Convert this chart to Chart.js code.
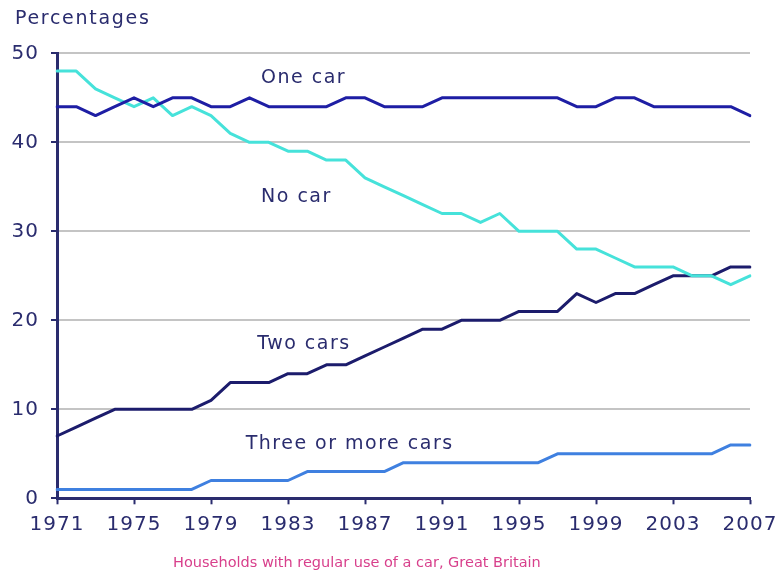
<!DOCTYPE html>
<html>
<head>
<meta charset="utf-8">
<script src="https://cdn.jsdelivr.net/npm/chart.js@4.4.9/dist/chart.umd.min.js"></script>
<style>
  html, body { margin: 0; padding: 0; background: #fff; }
  #wrap { width: 777px; height: 571px; }
</style>
</head>
<body>
<div id="wrap"><canvas id="myChart" width="777" height="571"></canvas></div>
<script>
const years = [];
for (let y = 1971; y <= 2007; y++) years.push(String(y));

const oneCar = [44, 44, 43, 44, 45, 44, 45, 45, 44, 44, 45, 44, 44, 44, 44, 45, 45, 44, 44, 44, 45, 45, 45, 45, 45, 45, 45, 44, 44, 45, 45, 44, 44, 44, 44, 44, 43];
const noCar = [48, 48, 46, 45, 44, 45, 43, 44, 43, 41, 40, 40, 39, 39, 38, 38, 36, 35, 34, 33, 32, 32, 31, 32, 30, 30, 30, 28, 28, 27, 26, 26, 26, 25, 25, 24, 25];
const twoCars = [7, 8, 9, 10, 10, 10, 10, 10, 11, 13, 13, 13, 14, 14, 15, 15, 16, 17, 18, 19, 19, 20, 20, 20, 21, 21, 21, 23, 22, 23, 23, 24, 25, 25, 25, 26, 26];
const threeCars = [1, 1, 1, 1, 1, 1, 1, 1, 2, 2, 2, 2, 2, 3, 3, 3, 3, 3, 4, 4, 4, 4, 4, 4, 4, 4, 5, 5, 5, 5, 5, 5, 5, 5, 5, 6, 6];

const seriesNames = ["One car", "No car", "Two cars", "Three or more cars"];
const yTicks = [0, 10, 20, 30, 40, 50];
const yTitle = "Percentages";
const caption = "Households with regular use of a car, Great Britain";

const navy = "#2a2c6e";
const fontFamily = "'DejaVu Sans', Verdana, sans-serif";

// the original text looks a bit stretched sideways, so add some letter spacing
const textPlugin = {
  id: "chartTexts",
  beforeDraw(chart) {
    chart.ctx.letterSpacing = "1px";
  },
  afterDatasetsDraw(chart) {
    const { ctx, scales } = chart;
    // series names, anchored in data units (category index, value)
    const anchors = [
      [10.6, 47.2],
      [10.6, 33.9],
      [10.4, 17.3],
      [9.8, 6.1],
    ];
    ctx.save();
    ctx.letterSpacing = "1.5px";
    ctx.font = "19px " + fontFamily;
    ctx.fillStyle = navy;
    ctx.textBaseline = "middle";
    ctx.textAlign = "left";
    seriesNames.forEach((name, i) => {
      ctx.fillText(name, scales.x.getPixelForValue(anchors[i][0]), scales.y.getPixelForValue(anchors[i][1]));
    });

    ctx.letterSpacing = "1.7px";
    ctx.font = "19px " + fontFamily;
    ctx.fillText(yTitle, 15, 19);

    ctx.letterSpacing = "0px";
    ctx.font = "14.5px " + fontFamily;
    ctx.fillStyle = "#d8408c";
    ctx.fillText(caption, 173, 563);
    ctx.restore();
  },
  afterDraw(chart) {
    chart.ctx.letterSpacing = "0px";
  },
};

const $canvas = document.getElementById("myChart");

let myChart = new Chart($canvas, {
  type: "line",
  data: {
    labels: years,
    datasets: [
      { label: seriesNames[0], data: oneCar, borderColor: "#1e1ea4" },
      { label: seriesNames[1], data: noCar, borderColor: "#46e2da" },
      { label: seriesNames[2], data: twoCars, borderColor: "#1c1c6c" },
      { label: seriesNames[3], data: threeCars, borderColor: "#3f80e0" },
    ],
  },
  options: {
    responsive: false,
    animation: false,
    layout: { padding: { left: 0, right: 27, top: 53.3, bottom: 15.4 } },
    elements: {
      line: { tension: 0, borderWidth: 3, borderJoinStyle: "round", borderCapStyle: "round" },
      point: { radius: 0 },
    },
    plugins: {
      legend: { display: false },
      tooltip: { enabled: false },
      title: { display: false },
    },
    scales: {
      x: {
        offset: false,
        grid: {
          drawOnChartArea: false,
          drawTicks: true,
          tickLength: 6,
          tickColor: navy,
          tickWidth: 2,
          offset: false,
        },
        border: { color: navy, width: 3 },
        ticks: {
          autoSkip: false,
          maxRotation: 0,
          padding: 8,
          color: navy,
          font: { family: fontFamily, size: 20 },
          callback(value, index) {
            return index % 4 === 0 ? years[index] : null;
          },
        },
        afterFit(scale) {
          scale.height = 57.3;
          // the last label may hang over the edge, the layout padding already leaves room
          scale.paddingLeft = 0;
          scale.paddingRight = 0;
        },
      },
      y: {
        min: 0,
        max: 50,
        afterBuildTicks(scale) {
          scale.ticks = yTicks.map((v) => ({ value: v }));
        },
        grid: {
          color: "#c4c4c4",
          lineWidth: 2,
          tickColor: navy,
          tickLength: 6,
          tickWidth: 2,
        },
        border: { color: navy, width: 3 },
        ticks: {
          padding: 12,
          color: navy,
          font: { family: fontFamily, size: 20 },
        },
        afterFit(scale) {
          scale.width = 57;
        },
      },
    },
  },
  plugins: [textPlugin],
});
</script>
</body>
</html>
